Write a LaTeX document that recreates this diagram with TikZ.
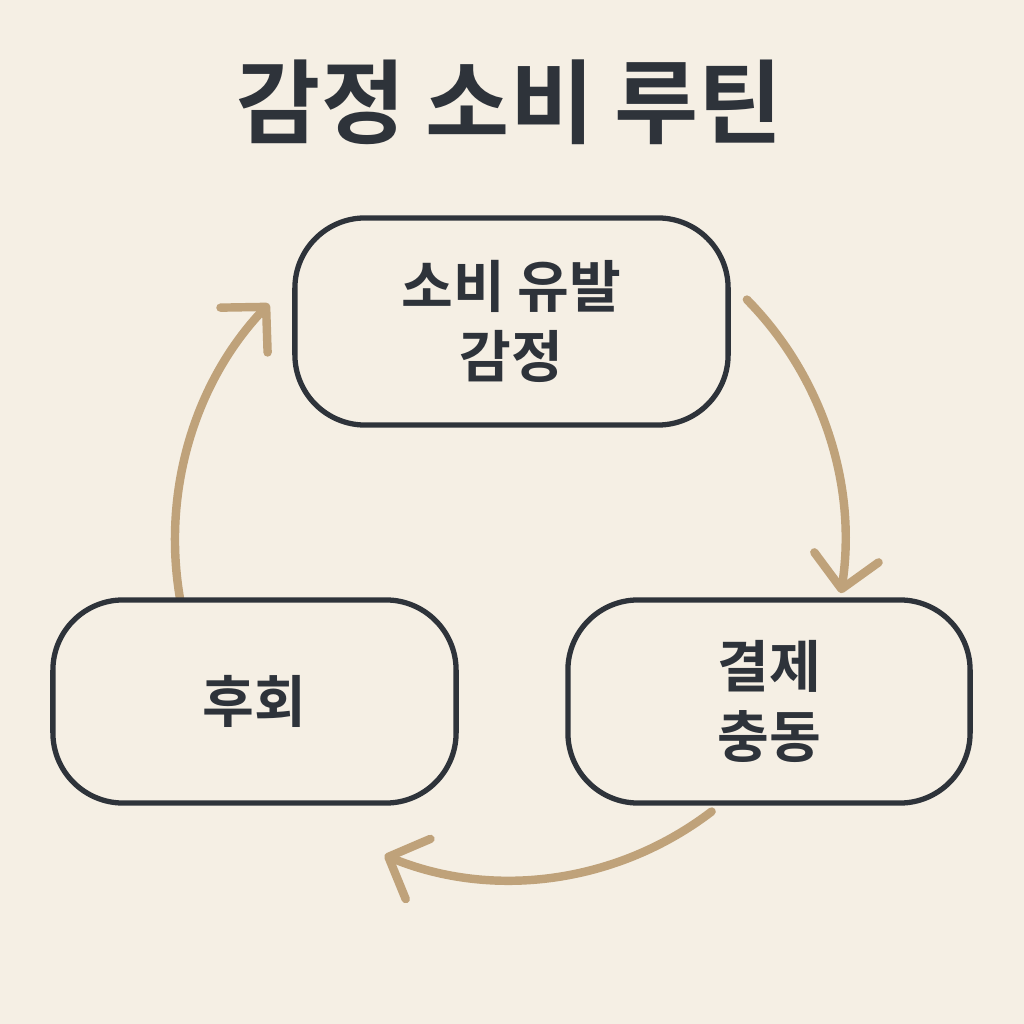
\documentclass[tikz,border=0pt]{standalone}
\usepackage{fontspec}
\newfontfamily\kr{Noto Sans CJK KR Bold}
\usetikzlibrary{arrows.meta}
\definecolor{bg}{HTML}{F5EFE4}
\definecolor{ink}{HTML}{2E333A}
\definecolor{tan}{HTML}{BFA27A}
\begin{document}
\begin{tikzpicture}[x=0.01cm,y=0.01cm,
  box/.style={draw=ink,line width=1.5pt,rounded corners=20pt,fill=bg,text=ink,align=center,font=\kr\fontsize{16}{20}\selectfont,inner sep=0pt},
  cyc/.style={draw=tan,line width=2.4pt,line cap=round,-{Straight Barb[length=3.2mm,width=6.5mm,round]}}]
\fill[bg] (0,0) rectangle (1024,1024);
\useasboundingbox (0,0) rectangle (1024,1024);
\node[text=ink,font=\kr\fontsize{26}{30}\selectfont] (title) at (510,922) {감정 소비 루틴};
\draw[cyc] (510,484) ++(190:335 and 340) arc[start angle=190,end angle=136,x radius=335,y radius=340];
\draw[cyc] (510,484) ++(45:335 and 340) arc[start angle=45,end angle=-9,x radius=335,y radius=340];
\draw[cyc] (510,484) ++(-53:335 and 340) arc[start angle=-53,end angle=-112,x radius=335,y radius=340];
\node[box,minimum width=4.33cm,minimum height=2.07cm] (a) at (511.5,702.5) {소비 유발\\감정};
\node[box,minimum width=4.03cm,minimum height=2.03cm] (c) at (254.5,322.5) {후회};
\node[box,minimum width=4.02cm,minimum height=2.03cm] (b) at (769,322.5) {결제\\충동};
\end{tikzpicture}
\end{document}
